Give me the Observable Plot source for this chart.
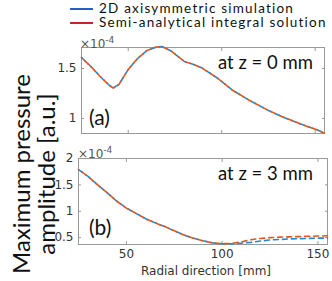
<!DOCTYPE html>
<html><head><meta charset="utf-8">
<script src="https://cdn.jsdelivr.net/npm/d3@7"></script>
<script src="https://cdn.jsdelivr.net/npm/@observablehq/plot@0.6"></script>
<style>
body{margin:0;background:#fff}
#c{position:relative;width:332px;height:281px;overflow:hidden;background:#fff}
.a{position:absolute;white-space:nowrap}
.p{position:absolute;left:0}
</style></head><body><div id="c"></div>
<script>
// Data (pressure amplitude in units of 1e-4)
const rTop = [25,30,35,40,42,45,50,55,60,65,68,73,80,85,89,94,98,106,115,125,133,142,151,155];
const simTop = [1.61,1.52,1.42,1.33,1.305,1.34,1.49,1.60,1.68,1.715,1.72,1.675,1.57,1.54,1.51,1.45,1.40,1.28,1.18,1.08,1.013,0.947,0.887,0.853];
const semiTop = [1.61,1.52,1.42,1.33,1.305,1.34,1.49,1.60,1.68,1.715,1.72,1.675,1.57,1.54,1.51,1.45,1.40,1.28,1.18,1.08,1.013,0.947,0.887,0.853];
const rBot = [25,30,35,40,45,50,55,60,65,70,75,80,85,90,95,100,105,110,115,120,125,130,135,140,145,150,155];
const simBot = [1.79,1.66,1.50,1.35,1.19,1.06,0.96,0.86,0.78,0.71,0.63,0.55,0.49,0.44,0.40,0.385,0.385,0.395,0.41,0.435,0.455,0.465,0.475,0.48,0.485,0.49,0.49];
const semiBot = [1.79,1.66,1.50,1.35,1.19,1.06,0.96,0.86,0.78,0.71,0.63,0.55,0.49,0.44,0.40,0.385,0.39,0.42,0.46,0.485,0.50,0.51,0.515,0.52,0.525,0.53,0.535];
const xTicks = [50,100,150];
const yTicksTop = [1,1.5];
const yTicksBot = [0.5,1,1.5,2];
const seriesNames = ["2D axisymmetric simulation","Semi-analytical integral solution"];
const panelLabels = ["(a)","(b)"];
const panelTitles = ["at z = 0 mm","at z = 3 mm"];

const BLUE = "#1f8ad8", ORANGE = "#e0561c";
const LEG_BLUE = "#2a5cc8", LEG_RED = "#c82424";
const topData = rTop.map((r,i)=>({r, sim:simTop[i], semi:semiTop[i]}));
const botData = rBot.map((r,i)=>({r, sim:simBot[i], semi:semiBot[i]}));

const style = {fontFamily:"DejaVu Sans", fontSize:"12px", color:"#333", background:"transparent", overflow:"visible"};
const fmt = d => String(d);

function axes(yt, withXLabels){
  return [
    Plot.frame({stroke:"#999"}),
    Plot.axisY({ticks:yt, tickSize:-3, tickPadding:8, tickFormat:fmt, label:null, stroke:"#999"}),
    Plot.axisY({anchor:"right", ticks:yt, tickSize:-3, tickFormat:()=>"", label:null, stroke:"#999"}),
    Plot.axisX({ticks:xTicks, tickSize:-3, tickPadding:8, tickFormat: withXLabels ? fmt : ()=>"", label:null, stroke:"#999"}),
    Plot.axisX({anchor:"top", ticks:xTicks, tickSize:-3, tickFormat:()=>"", label:null, stroke:"#999"})
  ];
}
function lines(data){
  return [
    Plot.line(data, {x:"r", y:"sim", stroke:BLUE, strokeWidth:1.6, strokeDasharray:"5,4"}),
    Plot.line(data, {x:"r", y:"semi", stroke:ORANGE, strokeWidth:1.6, strokeDasharray:"5,4", strokeDashoffset:4.5})
  ];
}

const pTop = Plot.plot({
  width:332, height:100, marginLeft:81, marginRight:8, marginTop:7, marginBottom:7,
  x:{domain:[25,155]}, y:{domain:[0.85,1.71]}, style,
  marks:[...axes(yTicksTop,false), ...lines(topData)]
});
const pBot = Plot.plot({
  width:332, height:130, marginLeft:78, marginRight:5, marginTop:8, marginBottom:36,
  x:{domain:[25,155]}, y:{domain:[0.37,2.0]}, style,
  marks:[...axes(yTicksBot,true), ...lines(botData)]
});

const c = document.getElementById("c");
pTop.classList.add("p"); pTop.style.top = "40px";
pBot.classList.add("p"); pBot.style.top = "150px";
c.appendChild(pTop); c.appendChild(pBot);

function txt(html, css){
  const d = document.createElement("div");
  d.className = "a"; d.innerHTML = html; d.style.cssText += css;
  c.appendChild(d); return d;
}
function line(color, left, top){
  const d = document.createElement("div");
  d.className = "a"; d.style.cssText = `left:${left}px;top:${top}px;width:23px;height:2px;background:${color}`;
  c.appendChild(d);
}
// Legend
line(LEG_BLUE, 70, 8);
line(LEG_RED, 70, 22);
txt(seriesNames[0], "left:99px;top:1.5px;font:13.5px/13px Lato;letter-spacing:1.2px;color:#111");
txt(seriesNames[1], "left:99px;top:16px;font:13.5px/13px Lato;letter-spacing:1.2px;color:#111");
// exponent labels
txt("×10<sup style='font-size:9px;vertical-align:5px'>-4</sup>", "left:80px;top:33px;font:12px/14px 'DejaVu Sans';color:#555");
txt("×10<sup style='font-size:9px;vertical-align:5px'>-4</sup>", "left:78px;top:143px;font:12px/14px 'DejaVu Sans';color:#555");
// panel annotations
txt(panelTitles[0], "left:218px;top:51px;font:18.5px/22px Lato;color:#111");
txt(panelTitles[1], "left:218px;top:162px;font:18.5px/22px Lato;color:#111");
txt(panelLabels[0], "left:89px;top:105px;font:21px/24px Lato;color:#111");
txt(panelLabels[1], "left:89px;top:215px;font:21px/24px Lato;color:#111");
// axis labels
txt("Radial direction [mm]", "left:206px;top:271px;transform:translate(-50%,-50%);font:12px/15px 'DejaVu Sans';color:#333");
txt("Maximum pressure<br>amplitude [a.u.]", "left:33px;top:174px;transform:translate(-50%,-50%) rotate(-90deg);text-align:center;font:24px/25px Lato;color:#111");
</script></body></html>
